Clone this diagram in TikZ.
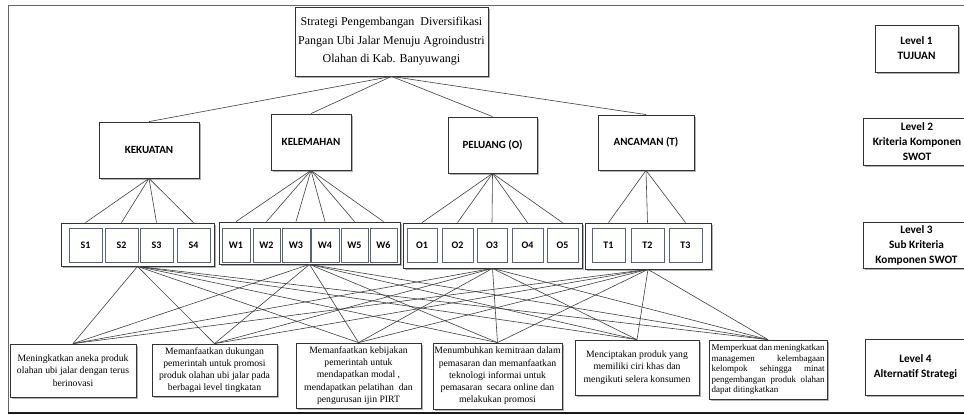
\documentclass[tikz,border=0pt]{standalone}
\usepackage{fontspec}
\setmainfont{Liberation Serif}
\newfontfamily\carlito{Carlito}
\usetikzlibrary{shadows,calc}
\definecolor{subedge}{HTML}{56627E}
\begin{document}
\begin{tikzpicture}[x=1pt,y=-1pt,
  shad/.style={drop shadow={shadow xshift=1.8pt,shadow yshift=-1.8pt,opacity=0.3,fill=black}},
  box/.style={draw=black!80,line width=0.8pt,fill=white,shad,inner sep=1pt,align=center},
  lab/.style={box,font=\carlito\bfseries\fontsize{11}{15}\selectfont},
  lvl/.style={box,font=\carlito\bfseries\fontsize{11.3}{15}\selectfont},
  grp/.style={box,minimum height=#1},
  sub/.style={draw=subedge,line width=0.7pt,fill=white,inner sep=0pt,minimum height=34pt,
    font=\carlito\bfseries\fontsize{10}{12}\selectfont},
  alt/.style={box,font=\fontsize{9.7}{12.2}\selectfont},
  conn/.style={draw=black!75,line width=0.6pt}
]
\useasboundingbox (0,0) rectangle (964,415);
\clip (0,0) rectangle (964,415);
\fill[white] (0,0) rectangle (964,415);
% outer frame
\draw[black!60,line width=0.9pt] (8,413) -- (8,5) -- (990,5);
\draw[black!90,line width=1.6pt] (8,413) -- (990,413);

% level 1
\node[box,minimum width=193pt,minimum height=69pt,font=\fontsize{12}{18.5}\selectfont] (top) at (391.5,41.5)
  {Strategi Pengembangan\ \ Diversifikasi\\Pangan Ubi Jalar Menuju Agroindustri\\Olahan di Kab. Banyuwangi};

% level labels
\node[lvl,minimum width=83pt,minimum height=47pt] (L1) at (916.5,48.5) {Level 1\\TUJUAN};
\node[lvl,minimum width=108pt,minimum height=47pt] (L2) at (917,141.5) {Level 2\\Kriteria Komponen\\SWOT};
\node[lvl,minimum width=107pt,minimum height=46pt] (L3) at (916.5,245) {Level 3\\Sub Kriteria\\Komponen SWOT};
\node[lvl,minimum width=101pt,minimum height=56pt] (L4) at (915.5,367) {Level 4\\Alternatif Strategi};

% level 2
\node[lab,minimum width=100pt,minimum height=56pt] (KU) at (149,150) {KEKUATAN};
\node[lab,minimum width=80pt,minimum height=56pt] (KL) at (311,142) {KELEMAHAN};
\node[lab,minimum width=89pt,minimum height=56pt] (PL) at (492.5,145) {PELUANG (O)};
\node[lab,minimum width=96pt,minimum height=55pt] (AN) at (646,142.5) {ANCAMAN (T)};

% level 3 groups
\node[box,minimum width=153pt,minimum height=43pt] (Sg) at (137.5,244.5) {};
\node[box,minimum width=181pt,minimum height=42pt] (Wg) at (309.5,243) {};
\node[box,minimum width=179pt,minimum height=45pt] (Og) at (492.5,245.5) {};
\node[box,minimum width=126pt,minimum height=46pt] (Tg) at (648,246) {};

% sub boxes
\node[sub,minimum width=33pt] (S1) at (85.5,245) {S1};
\node[sub,minimum width=33pt] (S2) at (121.5,245) {S2};
\node[sub,minimum width=33pt] (S3) at (156.5,245) {S3};
\node[sub,minimum width=33pt] (S4) at (193.5,245) {S4};
\node[sub,minimum width=28pt] (W1) at (236,245) {W1};
\node[sub,minimum width=27pt] (W2) at (266.5,245) {W2};
\node[sub,minimum width=28pt] (W3) at (296,245) {W3};
\node[sub,minimum width=28pt] (W4) at (325,245) {W4};
\node[sub,minimum width=27pt] (W5) at (354.5,245) {W5};
\node[sub,minimum width=27pt] (W6) at (383.5,245) {W6};
\node[sub,minimum width=30pt] (O1) at (422,245) {O1};
\node[sub,minimum width=31pt] (O2) at (457.5,245) {O2};
\node[sub,minimum width=30pt] (O3) at (492,245) {O3};
\node[sub,minimum width=31pt] (O4) at (527.5,245) {O4};
\node[sub,minimum width=31pt] (O5) at (562.5,245) {O5};
\node[sub,minimum width=33pt] (T1) at (608.5,245) {T1};
\node[sub,minimum width=33pt] (T2) at (647.5,245) {T2};
\node[sub,minimum width=33pt] (T3) at (685.5,245) {T3};

% level 4
\node[alt,minimum width=126pt,minimum height=53pt] (A1) at (73,370.5)
  {Meningkatkan aneka produk\\olahan ubi jalar dengan terus\\berinovasi};
\node[alt,minimum width=125pt,minimum height=52pt] (A2) at (214.5,370)
  {Memanfaatkan dukungan\\pemerintah untuk promosi\\produk olahan ubi jalar pada\\berbagai level tingkatan};
\node[alt,minimum width=125pt,minimum height=65pt] (A3) at (358.5,375.5)
  {Memanfaatkan kebijakan\\pemerintah untuk\\mendapatkan modal ,\\mendapatkan pelatihan\ \ dan\\pengurusan ijin PIRT};
\node[alt,minimum width=129pt,minimum height=66pt] (A4) at (497.5,376)
  {Menumbuhkan kemitraan dalam\\pemasaran dan memanfaatkan\\teknologi informai untuk\\pemasaran\ \ secara online dan\\melakukan promosi};
\node[alt,minimum width=124pt,minimum height=55pt] (A5) at (637,367.5)
  {Menciptakan produk yang\\memiliki ciri khas dan\\mengikuti selera konsumen};
\node[box,minimum width=118pt,minimum height=59pt,align=left,font=\fontsize{9}{10.4}\selectfont] (A6) at (768,369.5)
  {\hbox to 113pt{Memperkuat\hfill dan\hfill meningkatkan}\\
   \hbox to 113pt{managemen\hfill kelembagaan}\\
   \hbox to 113pt{kelompok\hfill sehingga\hfill minat}\\
   \hbox to 113pt{pengembangan\hfill produk\hfill olahan}\\
   \hbox to 113pt{dapat ditingkatkan\hfill}};

% level 1 -> level 2
\foreach \n in {KU,KL,PL,AN} \draw[conn] (top.south) -- (\n.north);
% level 2 -> level 3
\foreach \i in {1,...,4} \draw[conn] (KU.south) -- (S\i.north |- Sg.north);
\foreach \i in {1,...,6} \draw[conn] (KL.south) -- (W\i.north |- Wg.north);
\foreach \i in {1,...,5} \draw[conn] (PL.south) -- (O\i.north |- Og.north);
\foreach \i in {1,...,3} \draw[conn] (AN.south) -- (T\i.north |- Tg.north);
% level 3 -> level 4
\foreach \g in {Sg,Wg,Og,Tg}
  \foreach \a in {1,...,6}
    \draw[conn] (\g.south) -- (A\a.north);
\end{tikzpicture}
\end{document}
